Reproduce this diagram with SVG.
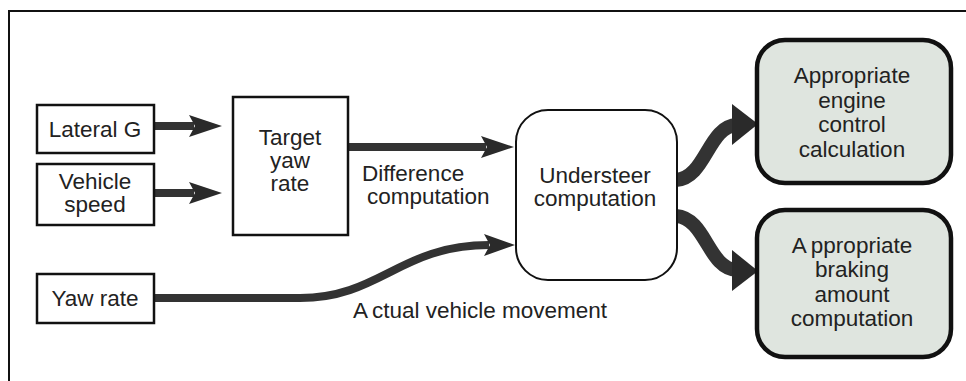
<svg xmlns="http://www.w3.org/2000/svg" width="966" height="381" viewBox="0 0 966 381">
<style>
text{font-family:"Liberation Sans",Arial,sans-serif;font-size:22.5px;fill:#222;text-anchor:middle}
.box{fill:#fff;stroke:#111;stroke-width:2.5}
.rbox{fill:#fff;stroke:#111;stroke-width:2}
.gbox{fill:#dfe5df;stroke:#111;stroke-width:4.5}
.shaft{fill:none;stroke:#333;stroke-width:8}
.thick{fill:none;stroke:#333;stroke-width:14}
.head{fill:#2a2a2a}
.start{text-anchor:start}
</style>
<rect width="966" height="381" fill="#fff"/>
<path d="M9,381 V11 H966" fill="none" stroke="#111" stroke-width="2"/>
<g id="connectors">
  <path class="shaft" d="M155,126 H194"/>
  <polygon class="head" points="189,115 222,126 189,137 195,126"/>
  <path class="shaft" d="M155,193 H194"/>
  <polygon class="head" points="189,182 222,193 189,204 195,193"/>
  <path class="shaft" d="M348,147 H486"/>
  <polygon class="head" points="481,136 514,147 481,158 487,147"/>
  <path class="shaft" d="M155,298 H300 C380,298 400,245 489,245"/>
  <polygon class="head" points="484,234 515,245 484,256 490,245"/>
  <path class="thick" d="M676,180 C706,178 708,126 737,125"/>
  <polygon class="head" points="732,104 758,124 732,145"/>
  <path class="thick" d="M676,216 C706,218 708,269 737,270"/>
  <polygon class="head" points="732,250 758,271 732,291"/>
</g>
<g id="lateral-g">
  <rect class="box" x="37" y="105" width="117" height="48"/>
  <text x="95" y="137">Lateral G</text>
</g>
<g id="vehicle-speed">
  <rect class="box" x="37" y="164" width="117" height="61"/>
  <text x="95" y="189">Vehicle<tspan x="95" y="212">speed</tspan></text>
</g>
<g id="yaw-rate">
  <rect class="box" x="37" y="274" width="117" height="49"/>
  <text x="95" y="306">Yaw rate</text>
</g>
<g id="target-yaw-rate">
  <rect class="box" x="233" y="97" width="115" height="138"/>
  <text x="290" y="145">Target<tspan x="290" y="168">yaw</tspan><tspan x="290" y="191">rate</tspan></text>
</g>
<g id="difference-label">
  <text class="start" x="362" y="181">Difference<tspan x="367" y="204">computation</tspan></text>
</g>
<g id="actual-label">
  <text class="start" x="353" y="318" dx="0 4">Actual vehicle movement</text>
</g>
<g id="understeer">
  <rect class="rbox" x="516" y="110" width="161" height="170" rx="32" ry="32"/>
  <text x="595" y="183">Understeer<tspan x="595" y="206">computation</tspan></text>
</g>
<g id="engine-control">
  <rect class="gbox" x="757" y="40" width="194" height="143" rx="28" ry="28"/>
  <text x="852" y="83">Appropriate<tspan x="852" y="108">engine</tspan><tspan x="852" y="132">control</tspan><tspan x="852" y="157">calculation</tspan></text>
</g>
<g id="braking-amount">
  <rect class="gbox" x="757" y="210" width="194" height="147" rx="28" ry="28"/>
  <text x="852" y="253" dx="0 4">Appropriate<tspan x="852" y="277">braking</tspan><tspan x="852" y="302">amount</tspan><tspan x="852" y="326">computation</tspan></text>
</g>
</svg>
